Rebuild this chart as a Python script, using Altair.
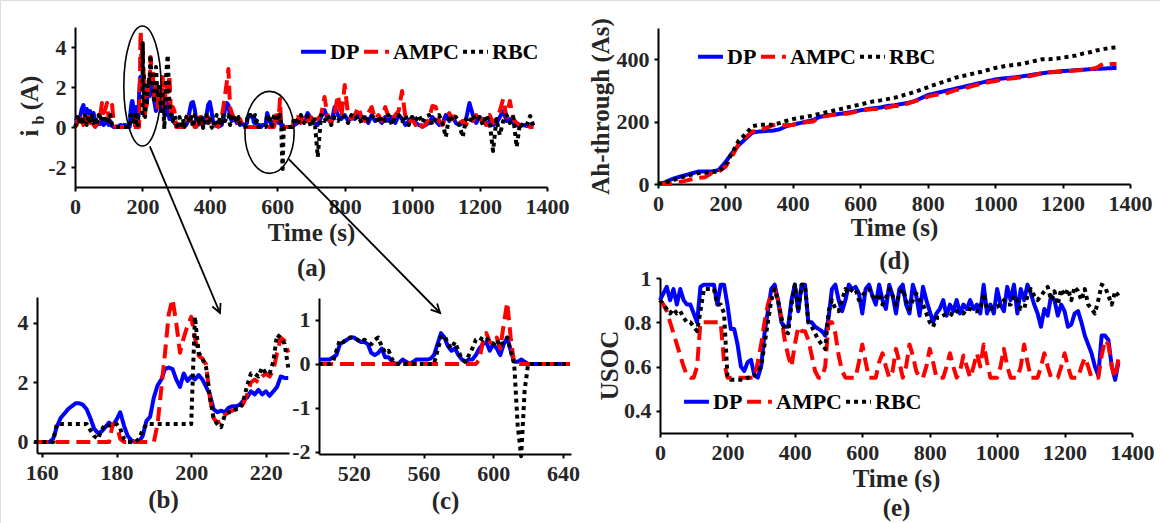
import altair as alt
import pandas as pd

FONT = "Liberation Serif"
SERIES = ["DP", "AMPC", "RBC"]
COLORS = ["#0000ff", "#ff0000", "#000000"]
DASHES = [[1, 0], [14, 7], [4, 4]]

# ---------------- panel (b): zoom 158-226 s ----------------
B_T = list(range(158, 227))
B_DP = [0, 0, 0, 0, 0, 0.1, 0.5, 0.8, 0.95, 1.1,
        1.2, 1.3, 1.3, 1.25, 1.1, 0.8, 0.45, 0.3, 0.35, 0.5,
        0.65, 0.55, 0.75, 1.0, 0.55, 0.2, 0.05, 0, 0, 0.2,
        0.7, 0.85, 1.5, 1.9, 2.1, 2.45, 2.5, 2.45, 2.1, 1.85,
        2.3, 2.05, 2.2, 2.1, 2.25, 2.1, 1.85, 1.6, 1.1, 1.0,
        1.05, 1.0, 1.15, 1.2, 1.2, 1.25, 1.4, 1.5, 1.7, 1.6,
        1.75, 1.6, 1.7, 1.55, 1.7, 1.85, 2.2, 2.15, 2.15]
B_AMPC = [0, 0, 0, 0, 0, 0, 0, 0, 0, 0,
          0, 0, 0, 0, 0, 0, 0, 0, 0, 0,
          0, 0.6, 0.6, 0.1, 0, 0, 0, 0, 0, 0,
          0, 0, 0, 0.6, 1.8, 3.0, 4.3, 4.8, 4.0, 3.0,
          3.5, 3.9, 4.2, 3.5, 2.9, 2.8, 2.6, 1.5, 0.8, 0.65,
          0.7, 0.9, 1.0, 1.05, 1.1, 1.1, 1.3, 1.6, 2.0, 2.1,
          2.0, 2.2, 2.3, 2.2, 2.4, 3.0, 3.5, 3.4, 3.0]
B_RBC = [0, 0, 0, 0, 0, 0, 0.6, 0.6, 0.6, 0.6,
         0.6, 0.6, 0.6, 0.6, 0.6, 0.4, 0.2, 0.1, 0.4, 0.6,
         0.55, 0.6, 0.6, 0.45, 0.1, 0, 0, 0, 0.1, 0.4,
         0.6, 0.6, 0.6, 0.6, 0.6, 0.6, 0.6, 0.6, 0.6, 0.6,
         0.6, 0.6, 0.6, 4.2, 3.0, 2.8, 2.5, 1.5, 0.8, 0.6,
         0.5, 0.9, 1.0, 1.0, 1.1, 1.1, 1.4, 1.9, 2.3, 2.3,
         2.2, 2.5, 2.3, 2.3, 2.7, 3.6, 3.5, 3.3, 2.5]

# ---------------- panel (c): zoom 500-644 s ----------------
C_T = list(range(500, 646, 2))
C_DP = [0.1, 0.1, 0.1, 0.1, 0.15, 0.2, 0.45, 0.5, 0.55, 0.6,
        0.6, 0.55, 0.5, 0.5, 0.45, 0.25, 0.2, 0.25, 0.35, 0.15,
        0.15, 0.05, 0, 0.02, 0.1, 0.05, 0, 0.05, 0.1, 0.1,
        0.1, 0.1, 0.12, 0.2, 0.45, 0.7, 0.6, 0.4, 0.3, 0.35,
        0.2, 0.1, 0.05, 0.1, 0.1, 0.2, 0.35, 0.45, 0.5, 0.3,
        0.45, 0.35, 0.2, 0.45, 0.6, 0.3, 0.05, 0.05, 0.1, 0.05,
        0, 0, 0, 0, 0, 0, 0, 0, 0, 0,
        0, 0, 0]
C_AMPC = [0, 0, 0, 0, 0, 0, 0, 0, 0, 0,
          0, 0, 0, 0, 0, 0, 0, 0, 0, 0,
          0, 0, 0, 0, 0, 0, 0, 0, 0, 0,
          0, 0, 0, 0, 0, 0, 0, 0, 0, 0,
          0, 0, 0, 0, 0, 0, 0.1, 0.5, 0.7, 0.5,
          0.45, 0.6, 0.35, 0.9, 1.4, 0.6, 0, 0, 0, 0,
          0, 0, 0, 0, 0, 0, 0, 0, 0, 0,
          0, 0, 0]
C_RBC = [0, 0, 0, 0, 0.05, 0.3, 0.55, 0.5, 0.55, 0.6,
         0.6, 0.55, 0.5, 0.55, 0.5, 0.45, 0.55, 0.6, 0.4, 0.25,
         0.3, 0.1, 0, 0, 0, 0, 0, 0, 0, 0,
         0, 0, 0, 0, 0.3, 0.6, 0.65, 0.45, 0.35, 0.5,
         0.3, 0.1, 0.05, 0.2, 0.35, 0.55, 0.6, 0.55, 0.6, 0.5,
         0.45, 0.55, 0.4, 0.5, 0.6, 0.3, 0, -1.4, -2.1, -0.6,
         0, 0, 0, 0, 0, 0, 0, 0, 0, 0,
         0, 0, 0]

# ---------------- panel (a): remaining stretches ----------------
A1_T = list(range(0, 160, 5))
A1_DP = [0.3, 0.35, 0.3, 0.5, 0.9, 1.1, 0.6, 0.9, 0.7, 0.8,
         0.4, 0.7, 0.3, 0.1, 0.2, 0.15, 0.3, 0.1, 0.2, 0.35,
         0.1, 0.3, 0.05, 0, 0, 0, 0.05, 0.1, 0.05, 0.1, 0.1, 0.05]
A1_AMPC = [0, 0.1, 0.5, 0.2, 0.4, 0.1, 0.6, 0.3, 0.5, 0.2,
           0.4, 0.1, 0, 0.3, 0.2, 0.6, 1.2, 0.7, 0.9, 1.2,
           0.4, 0.8, 1.1, 0.2, 0, 0, 0, 0, 0, 0, 0, 0]
A1_RBC = [0, 0.2, 0.6, 0.1, 0.5, 0.3, 0.6, 0.1, 0.55, 0.3,
          0.6, 0.2, 0.5, 0.1, 0.6, 0.3, 0.5, 0.6, 0.2, 0.55,
          0.3, 0.6, 0.1, 0, 0, 0, 0, 0, 0, 0, 0, 0]

A2_T = list(range(230, 500, 5))
A2_DP = [2.0, 1.3, 0.8, 1.2, 1.5, 0.9, 1.3, 0.6, 1.4, 1.0,
         0.4, 0.9, 0.3, 0.2, 0.1, 0.05, 0.1, 0.05, 0.1, 0.1,
         0.1, 0.3, 0.8, 1.2, 1.25, 0.9, 0.3, 0.1, 0.2, 0.5,
         0.3, 0.2, 0.6, 1.1, 1.25, 0.8, 0.2, 0.1, 0.05, 0.1,
         0.05, 0.1, 0.4, 0.9, 1.2, 1.1, 0.5, 0.3, 0.5, 0.4,
         0.2, 0.3, 0.1, 0.2]
A2_AMPC = [2.8, 1.5, 2.3, 1.0, 2.0, 1.2, 2.5, 0.8, 2.2, 1.5,
           2.6, 0.5, 1.0, 0.8, 0, 0, 0, 0, 0, 0,
           0.2, 0.5, 0.3, 0.6, 0.2, 0, 0, 0.3, 0.6, 0.2,
           0, 0.4, 0.3, 0.5, 0.1, 0, 0, 0, 0.2, 0,
           0.3, 0.5, 1.0, 1.6, 2.2, 2.9, 1.0, 0.7, 0.5, 0.3,
           0.5, 0.2, 0.4, 0.1]
A2_RBC = [2.0, 1.2, 3.0, 1.5, 2.2, 0.8, 1.8, -0.1, 2.5, 3.6,
          1.2, 0.5, 0.3, 0.6, 0.2, -0.1, 0.5, 0.1, 0.4, 0.0,
          0.5, 0.6, 0.2, 0.5, 0.0, 0.6, 0.3, 0.5, 0.1, 0.6,
          -0.05, 0.4, 0.6, 0.2, 0.5, 0.0, -0.1, 0.3, 0.6, 0.1,
          0.5, 0.2, 0.6, 0.3, 0.5, 0.6, 0.1, 0.5, 0.3, 0.6,
          0.2, 0.5, 0.1, 0.0]

A3_T = list(range(650, 1370, 10))
A3_DP = [0.1, 0.2, 0.5, 0.3, 0.7, 0.4, 0.2, 0.1, 0.5, 0.85,
         0.4, 0.2, 1.0, 0.6, 0.4, 0.6, 0.3, 0.5, 0.4, 0.6,
         0.3, 0.5, 0.2, 0.6, 0.3, 0.4, 0.2, 0.5, 0.3, 0.5,
         0.2, 0.6, 0.4, 0.1, 0.3, 0.5, 0.2, 0.1, 0.05, 0.1,
         0.2, 0.5, 0.3, 0.1, 0.2, 0.6, 0.3, 0.5, 0.2, 0.1,
         0.2, 0.4, 1.2, 0.6, 0.2, 0.5, 0.3, 0.1, 0.3, 0.1,
         0.2, 0.5, 0.8, 0.3, 0.4, 0.2, 0.1, 0.05, 0.1, 0.05,
         0.1, 0.05]
A3_AMPC = [0.3, 0.5, 0.2, 0.6, 0.3, 0.5, 0.1, 0.4, 0.6, 1.5,
           0.5, 0.2, 0.7, 1.6, 0.5, 2.1, 0.6, 0.4, 0.6, 1.0,
           0.5, 0.3, 0.7, 1.0, 0.4, 0.6, 0.3, 1.0, 0.5, 0.3,
           0.6, 0.8, 1.8, 0.5, 0.2, 0.4, 0.1, 0.3, 0, 0.1,
           0.4, 1.05, 1.0, 0.3, 0.1, 0.5, 0.7, 0.4, 0.6, 0.2,
           0.3, 0.1, 0.5, 0.3, 0.6, 0.2, 0.4, 0.1, 0.6, 0.2,
           0.4, 0.8, 1.4, 0.5, 1.3, 0.4, 0.2, 0.1, 0, 0.1,
           0, 0]
A3_RBC = [0.5, 0.1, 0.6, 0.2, 0.55, 0.0, 0.5, -1.5, 0.6, 0.3,
          0.6, 0.1, 0.5, 0.3, 0.6, 0.5, 0.2, 0.6, 0.4, 0.55,
          0.2, 0.6, 0.3, 0.5, 0.6, 0.2, 0.55, 0.3, 0.6, 0.1,
          0.5, 0.6, 0.3, 0.6, 0.1, 0.5, 0.3, 0.6, 0.2, 0.5,
          0.6, 0.1, 0.4, 0.6, 0.2, -0.5, 0.6, 0.3, 0.5, 0.1,
          -0.5, 0.4, 0.2, 0.6, 0.3, 0.5, 0.1, 0.6, 0.2, -1.2,
          0.4, -0.4, 0.3, 0.6, 0.2, 0.5, -1.0, 0.2, 0.0, 0.1,
          0.55, 0.05]

# ---------------- panel (d): Ah-throughput ----------------
D_T = list(range(0, 1380, 20))
D_DP = [0, 5, 15, 22, 28, 34, 40, 40, 40, 45,
        70, 100, 125, 145, 165, 168, 170, 171, 175, 185,
        190, 195, 200, 205, 215, 220, 222, 225, 228, 232,
        236, 240, 243, 245, 250, 252, 256, 260, 265, 275,
        285, 290, 295, 300, 305, 310, 315, 320, 325, 330,
        335, 338, 340, 342, 345, 348, 352, 355, 358, 360,
        362, 363, 365, 366, 368, 369, 370, 371, 372]
D_AMPC = [0, 0, 0, 5, 10, 15, 20, 22, 35, 40,
          55, 90, 130, 150, 168, 170, 180, 188, 190, 188,
          190, 195, 198, 200, 215, 218, 222, 225, 225, 230,
          234, 238, 240, 240, 245, 250, 250, 258, 265, 270,
          280, 285, 288, 292, 300, 305, 310, 316, 322, 326,
          330, 335, 337, 340, 342, 345, 350, 355, 358, 359,
          360, 362, 364, 365, 368, 372, 385, 385, 385]
D_RBC = [0, 5, 10, 18, 25, 30, 35, 36, 38, 40,
         60, 100, 140, 160, 185, 190, 190, 190, 195, 202,
         208, 212, 215, 220, 225, 230, 235, 240, 245, 250,
         255, 260, 265, 268, 272, 276, 282, 288, 295, 302,
         310, 318, 325, 332, 340, 345, 350, 355, 360, 366,
         372, 376, 380, 382, 385, 390, 395, 400, 400, 402,
         405, 408, 412, 418, 422, 428, 432, 436, 438]

# ---------------- panel (e): USOC ----------------
E_T = list(range(0, 1370, 10))
E_DP = [0.9, 0.93, 0.96, 0.9, 0.95, 0.88, 0.95, 0.9, 0.88, 0.88,
        0.84, 0.8, 0.96, 0.97, 0.97, 0.97, 0.97, 0.88, 0.97, 0.97,
        0.88, 0.77, 0.77, 0.7, 0.6, 0.58, 0.62, 0.63, 0.56, 0.55,
        0.6, 0.75, 0.85, 0.95, 0.97, 0.9, 0.8, 0.78, 0.78, 0.9,
        0.97, 0.85, 0.97, 0.97, 0.8, 0.8, 0.78, 0.77, 0.76, 0.74,
        0.82, 0.95, 0.97, 0.9, 0.85, 0.9, 0.97, 0.95, 0.96, 0.93,
        0.84, 0.95, 0.97, 0.92, 0.88, 0.97, 0.9, 0.86, 0.97, 0.92,
        0.84, 0.95, 0.97, 0.88, 0.84, 0.97, 0.92, 0.83, 0.96, 0.9,
        0.85, 0.8, 0.84, 0.86, 0.9, 0.83, 0.88, 0.85, 0.9, 0.84,
        0.88, 0.86, 0.9, 0.86, 0.88, 0.84, 0.97, 0.84, 0.88, 0.84,
        0.95, 0.88, 0.85, 0.96, 0.9, 0.97, 0.84, 0.95, 0.9, 0.97,
        0.93, 0.88, 0.84, 0.78, 0.86, 0.83, 0.92, 0.9, 0.83, 0.88,
        0.85, 0.78, 0.79, 0.84, 0.85, 0.8, 0.74, 0.7, 0.66, 0.6,
        0.56, 0.74, 0.74, 0.72, 0.6, 0.54, 0.62]
E_AMPC = [0.9, 0.88, 0.85, 0.8, 0.75, 0.7, 0.65, 0.6, 0.56, 0.55,
          0.55, 0.6, 0.8, 0.8, 0.8, 0.8, 0.8, 0.8, 0.8, 0.62,
          0.55, 0.55, 0.55, 0.55, 0.55, 0.55, 0.55, 0.55, 0.55, 0.62,
          0.7, 0.8, 0.88, 0.93, 0.95, 0.9, 0.82, 0.72, 0.65, 0.6,
          0.7, 0.78, 0.76, 0.76, 0.72, 0.65, 0.58, 0.55, 0.55, 0.6,
          0.8, 0.8, 0.75, 0.65, 0.58, 0.55, 0.55, 0.55, 0.55, 0.62,
          0.7, 0.62, 0.55, 0.55, 0.55, 0.62, 0.66, 0.6, 0.55, 0.58,
          0.68, 0.62, 0.55, 0.6, 0.7, 0.65, 0.58, 0.55, 0.55, 0.6,
          0.68, 0.62, 0.55, 0.55, 0.55, 0.6, 0.66, 0.6, 0.55, 0.58,
          0.65, 0.6, 0.55, 0.6, 0.66, 0.6, 0.7, 0.62, 0.55, 0.55,
          0.55, 0.6, 0.68, 0.6, 0.55, 0.55, 0.55, 0.6, 0.7, 0.62,
          0.55, 0.55, 0.55, 0.6, 0.66, 0.6, 0.55, 0.55, 0.55, 0.6,
          0.66, 0.6, 0.55, 0.55, 0.55, 0.6, 0.64, 0.6, 0.55, 0.55,
          0.55, 0.65, 0.72, 0.7, 0.6, 0.55, 0.64]
E_RBC = [0.9, 0.88, 0.86, 0.84, 0.86, 0.84, 0.85, 0.82, 0.8, 0.8,
         0.78, 0.76, 0.85, 0.95, 0.95, 0.95, 0.95, 0.88, 0.88, 0.84,
         0.56, 0.54, 0.54, 0.54, 0.54, 0.54, 0.55, 0.55, 0.56, 0.58,
         0.6, 0.7, 0.8, 0.9, 0.95, 0.9, 0.82, 0.76, 0.75, 0.88,
         0.97, 0.85, 0.97, 0.97, 0.8, 0.78, 0.75, 0.72, 0.7, 0.68,
         0.85, 0.9, 0.86, 0.85, 0.9, 0.95, 0.93, 0.95, 0.95, 0.9,
         0.92, 0.94, 0.95, 0.92, 0.9, 0.93, 0.88, 0.91, 0.95, 0.92,
         0.88, 0.93, 0.95, 0.9, 0.86, 0.9, 0.93, 0.9, 0.88, 0.84,
         0.8, 0.78, 0.82, 0.82, 0.83, 0.84, 0.84, 0.83, 0.85, 0.84,
         0.84, 0.86, 0.86, 0.85, 0.85, 0.86, 0.93, 0.86, 0.86, 0.87,
         0.87, 0.88, 0.9, 0.88, 0.88, 0.92, 0.9, 0.86, 0.86, 0.92,
         0.95, 0.92, 0.9, 0.92, 0.94, 0.96, 0.9, 0.94, 0.88, 0.95,
         0.92, 0.95, 0.9, 0.96, 0.94, 0.9, 0.95, 0.88, 0.86, 0.84,
         0.9, 0.97, 0.96, 0.92, 0.88, 0.94, 0.92]

# annotation anchors in panel (a) data units
ELL_T = [200, 577]
ELL_V = [2.05, -0.27]
ARROW_T1 = [222, 634]
ARROW_V1 = [-0.97, -1.61]
ARROW_T2 = [430, 1083]
ARROW_V2 = [-9.3, -9.3]
ARROW_ANG = [157, 136]

ELL_PATH1 = ("M0,-1 C0.171,-1 0.31,-0.552 0.31,0 C0.31,0.552 0.171,1 0,1 "
             "C-0.171,1 -0.31,0.552 -0.31,0 C-0.31,-0.552 -0.171,-1 0,-1 Z")
ELL_PATH2 = ("M0,-1 C0.331,-1 0.6,-0.552 0.6,0 C0.6,0.552 0.331,1 0,1 "
             "C-0.331,1 -0.6,0.552 -0.6,0 C-0.6,-0.552 -0.331,-1 0,-1 Z")
HEAD_PATH = "M-0.5,1 L0,0 L0.5,1"

LABEL_EXPR = "datum.value < 0 ? '-' + format(-datum.value, '~g') : format(datum.value, '~g')"
W, H = 1160, 523

AXIS_STYLE = dict(grid=False, domainColor="black", domainWidth=2, tickColor="black",
                  tickWidth=2, tickSize=4, labelPadding=5, labelFont=FONT, labelFontSize=22,
                  labelFontWeight="bold", labelColor="#262626", labelFlush=False,
                  labelOverlap=False, titleFont=FONT,
                  titleFontSize=25, titleFontWeight="bold", titleColor="#262626")


def frame(ts_list, vs_list):
    rows = []
    for name, ts, vs in zip(SERIES, ts_list, vs_list):
        for t, v in zip(ts, vs):
            rows.append({"t": t, "v": v, "s": name})
    return pd.DataFrame(rows)


def encodings(box, xdom, ydom, xticks, yticks, xtitle, ytitle, xt_pad, xt_lh, yt_pad,
              ytitle_y=None):
    left, top, right, bottom = box
    x = alt.X("t:Q", scale=alt.Scale(domain=xdom, range=[left, right], nice=False, zero=False),
              axis=alt.Axis(orient="bottom", offset=bottom - H, values=xticks, title=xtitle,
                            titlePadding=xt_pad, titleLineHeight=xt_lh, labelExpr=LABEL_EXPR,
                            **AXIS_STYLE))
    yaxis_kw = dict(orient="left", offset=-left, values=yticks, title=ytitle,
                    titlePadding=yt_pad, labelExpr=LABEL_EXPR, **AXIS_STYLE)
    if ytitle_y is not None:
        yaxis_kw["titleY"] = ytitle_y
    y = alt.Y("v:Q", scale=alt.Scale(domain=ydom, range=[bottom, top], nice=False, zero=False),
              axis=alt.Axis(**yaxis_kw))
    return x, y


def line_layers(df, x, y, legend_xy):
    if legend_xy is None:
        leg = None
    else:
        leg = alt.Legend(title=None, orient="none", legendX=legend_xy[0], legendY=legend_xy[1],
                         direction="horizontal", symbolType="stroke", symbolSize=620,
                         symbolStrokeWidth=4, labelFont=FONT, labelFontSize=22,
                         labelFontWeight="bold", labelColor="black", labelOffset=2,
                         columnPadding=-4, padding=0)
    color = alt.Color("s:N", scale=alt.Scale(domain=SERIES, range=COLORS), legend=leg)
    dash = alt.StrokeDash("s:N", scale=alt.Scale(domain=SERIES, range=DASHES), legend=leg)
    base = alt.Chart(df).mark_line(strokeWidth=4, strokeJoin="round", clip=False).encode(
        x=x, y=y, color=color, strokeDash=dash)
    return [base.transform_filter(alt.datum.s == n) for n in SERIES]


dummy = pd.DataFrame({"k": [0]})

# ----- panel (a)
a_df = frame(
    [A1_T + B_T + A2_T + C_T + A3_T] * 3,
    [A1_DP + B_DP + A2_DP + C_DP + A3_DP,
     A1_AMPC + B_AMPC + A2_AMPC + C_AMPC + A3_AMPC,
     A1_RBC + B_RBC + A2_RBC + C_RBC + A3_RBC])
ax, ay = encodings((75, 27, 547, 187), [0, 1400], [-3, 5], list(range(0, 1401, 200)),
                   [-2, 0, 2, 4], ["Time (s)", "(a)"], None, 3, 35, 2)
ell1 = alt.Chart(pd.DataFrame({"t": ELL_T[:1], "v": ELL_V[:1]})).mark_point(
    shape=ELL_PATH1, size=14400, filled=False, color="black", strokeWidth=1.6, opacity=1
).encode(x=ax, y=ay)
ell2 = alt.Chart(pd.DataFrame({"t": ELL_T[1:], "v": ELL_V[1:]})).mark_point(
    shape=ELL_PATH2, size=6724, filled=False, color="black", strokeWidth=1.6, opacity=1
).encode(x=ax, y=ay)
arrows = alt.Chart(pd.DataFrame({"t": ARROW_T1, "v": ARROW_V1, "t2": ARROW_T2, "v2": ARROW_V2})
                   ).mark_rule(color="black", strokeWidth=1.8).encode(x=ax, y=ay, x2="t2:Q", y2="v2:Q")
heads = alt.Chart(pd.DataFrame({"t": ARROW_T2, "v": ARROW_V2, "ang": ARROW_ANG})).mark_point(
    shape=HEAD_PATH, size=324, filled=False, color="black", strokeWidth=1.8, opacity=1
).encode(x=ax, y=ay, angle=alt.Angle("ang:Q", scale=None))
ytxt_style = dict(font=FONT, fontWeight="bold", color="#262626", angle=270,
                  align="center", baseline="middle")
t_i = alt.Chart(dummy).mark_text(text="i", fontSize=25, **ytxt_style).encode(
    x=alt.value(30), y=alt.value(133))
t_b = alt.Chart(dummy).mark_text(text="b", fontSize=16, **ytxt_style).encode(
    x=alt.value(39), y=alt.value(120))
t_A = alt.Chart(dummy).mark_text(text="(A)", fontSize=25, **ytxt_style).encode(
    x=alt.value(30), y=alt.value(93))
panel_a = alt.layer(*line_layers(a_df, ax, ay, (299, 37)), ell1, ell2, arrows, heads,
                    t_i, t_b, t_A)

# ----- panel (b)
b_df = frame([B_T] * 3, [B_DP, B_AMPC, B_RBC])
bx, by = encodings((37, 297, 289, 453), [158.7, 226.2], [-0.37, 4.87], [160, 180, 200, 220],
                   [0, 2, 4], "(b)", None, 4, 30, 2)
panel_b = alt.layer(*line_layers(b_df, bx, by, None))

# ----- panel (c)
c_df = frame([C_T] * 3, [C_DP, C_AMPC, C_RBC])
cx, cy = encodings((319, 298, 571, 454), [500, 644.6], [-2.05, 1.5], [520, 560, 600, 640],
                   [-2, -1, 0, 1], "(c)", None, 4, 30, 2)
panel_c = alt.layer(*line_layers(c_df, cx, cy, None))

# ----- panel (d)
d_df = frame([D_T] * 3, [D_DP, D_AMPC, D_RBC])
dx, dy = encodings((658, 28, 1130, 184), [0, 1400], [0, 500], list(range(0, 1401, 200)),
                   [0, 200, 400], ["Time (s)", "(d)"], "Ah-through (As)", 1, 33, 3)
panel_d = alt.layer(*line_layers(d_df, dx, dy, (696, 42)))

# ----- panel (e)
e_df = frame([E_T] * 3, [E_DP, E_AMPC, E_RBC])
ex, ey = encodings((660, 278, 1132, 433), [0, 1400], [0.3, 1.0], list(range(0, 1401, 200)),
                   [0.4, 0.6, 0.8, 1.0], ["Time (s)", "(e)"], "USOC", 3, 29, 1, 365)
panel_e = alt.layer(*line_layers(e_df, ex, ey, (682, 387)))

chart = alt.layer(panel_a, panel_b, panel_c, panel_d, panel_e).resolve_scale(
    x="independent", y="independent", color="independent", strokeDash="independent"
).resolve_axis(x="independent", y="independent").resolve_legend(
    color="independent", strokeDash="independent"
).properties(
    width=W, height=H, autosize=alt.AutoSizeParams(type="none"),
    padding={"left": 0, "top": 0, "right": 0, "bottom": 0}
).configure_view(stroke=None).configure(background="white")

chart.save("out.html", embed_options={"renderer": "svg", "actions": False})
